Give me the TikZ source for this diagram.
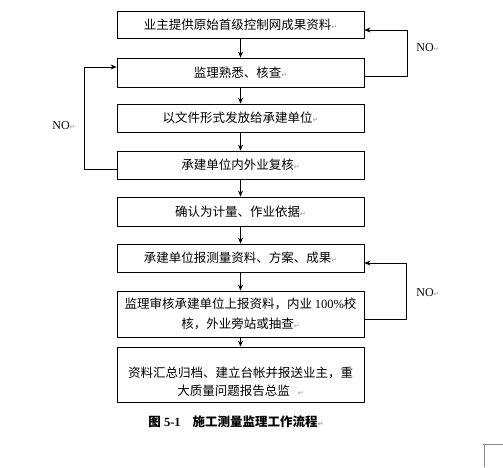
\documentclass[tikz,border=0pt]{standalone}
\usepackage{fontspec}
\setmainfont{Liberation Serif}
\newfontfamily\cjk{Noto Sans CJK SC}
\newfontfamily\symf{DejaVu Sans}
\usetikzlibrary{arrows.meta}
\newcommand\pmk{{\symf\fontsize{7}{7}\selectfont\color{black!40}↵}}

\begin{document}
\begin{tikzpicture}[x=1pt,y=-1pt,line cap=round,line join=round,>={Stealth[length=6pt,width=5pt]},
  box/.style={draw,line width=0.8pt,minimum width=247pt,inner sep=0pt,align=center,
    font=\cjk\fontsize{12.5}{20}\selectfont},
  flow/.style={->,line width=0.8pt},
  nolabel/.style={font=\rmfamily\fontsize{12}{14}\selectfont}]
  \useasboundingbox (0,0) rectangle (503,467);
  % boxes, top to bottom
  \node[box,minimum height=27pt] (b1) at (240.5,24.5) {业主提供原始首级控制网成果资料\pmk};
  \node[box,minimum height=29pt] (b2) at (240.5,72.5) {监理熟悉、核查\pmk};
  \node[box,minimum height=28pt] (b3) at (240.5,118) {以文件形式发放给承建单位\pmk};
  \node[box,minimum height=28pt] (b4) at (240.5,165) {承建单位内外业复核\pmk};
  \node[box,minimum height=29pt] (b5) at (240.5,211.5) {确认为计量、作业依据\pmk};
  \node[box,minimum height=28pt] (b6) at (240.5,258) {承建单位报测量资料、方案、成果\pmk};
  \node[box,minimum height=46pt] (b7) at (240.5,314) {监理审核承建单位上报资料，内业 {\rmfamily 100\%}校\\核，外业旁站或抽查\pmk};
  \node[box,minimum height=55pt] (b8) at (240.5,374.5) {};
  \node[align=center,inner sep=0pt,font=\cjk\fontsize{12.5}{18}\selectfont] (t8) at (240.5,382)
    {资料汇总归档、建立台帐并报送业主，重\\大质量问题报告总监\hspace{8pt}\pmk};
  \foreach \a/\b in {b1/b2,b2/b3,b3/b4,b4/b5,b5/b6,b6/b7,b7/b8}{
    \draw[flow] (\a) -- (\b);
  }
  % NO loops
  \coordinate (r1a) at (407,76);
  \coordinate (r1b) at (407,30);
  \draw[flow] (b2.east |- r1a) -- (r1a) -- (r1b) -- (b1.east |- r1b);
  \coordinate (l1a) at (84,169);
  \coordinate (l1b) at (84,67);
  \draw[flow] (b4.west |- l1a) -- (l1a) -- (l1b) -- (b2.west |- l1b);
  \coordinate (r2a) at (406,319);
  \coordinate (r2b) at (406,263);
  \draw[flow] (b7.east |- r2a) -- (r2a) -- (r2b) -- (b6.east |- r2b);
  \node[nolabel] (no1) at (428,48) {NO\pmk};
  \node[nolabel] (no2) at (64,126) {NO\pmk};
  \node[nolabel] (no3) at (428,293) {NO\pmk};
  % caption
  \node[font=\bfseries\fontsize{12.5}{15}\selectfont] (cap) at (236,422)
    {{\cjk 图} 5-1\hspace{12pt}{\cjk 施工测量监理工作流程}\pmk};
  % corner mark
  \draw[black!45,line width=0.6pt] (483,444) -- (503,444) (484,444) -- (484,467);
\end{tikzpicture}
\end{document}
